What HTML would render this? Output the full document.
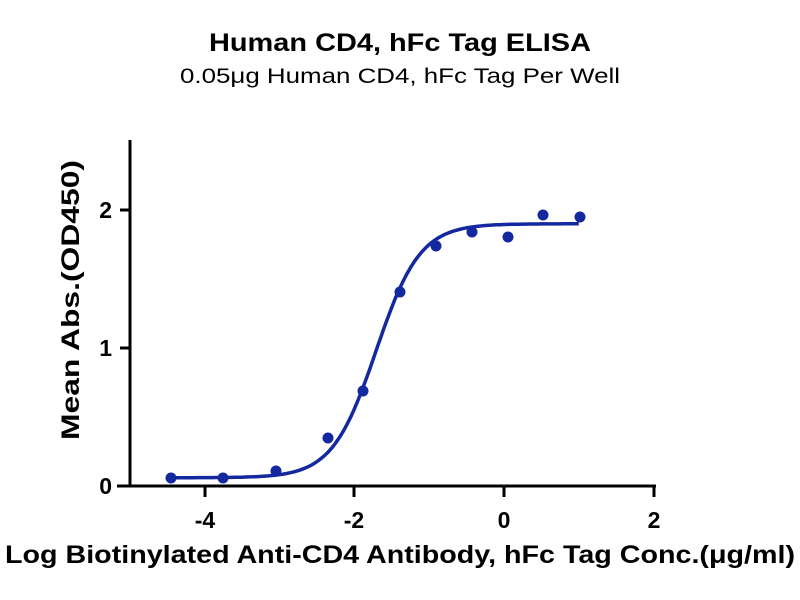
<!DOCTYPE html><html><head><style>body{margin:0;background:#fff}svg{display:block}text{font-family:"Liberation Sans",Arial,sans-serif}</style></head><body>
<svg id="s" width="800" height="600" xmlns="http://www.w3.org/2000/svg">
<text x="400" y="51" text-anchor="middle" font-size="25" font-weight="bold" textLength="382" lengthAdjust="spacingAndGlyphs">Human CD4, hFc Tag ELISA</text>
<text x="400" y="83" text-anchor="middle" font-size="21" textLength="440" lengthAdjust="spacingAndGlyphs">0.05μg Human CD4, hFc Tag Per Well</text>
<g stroke="#000" stroke-width="3" fill="none">
<line x1="130" y1="140" x2="130" y2="487"/>
<line x1="117" y1="486" x2="656" y2="486"/>
<line x1="120" y1="348" x2="130" y2="348"/><line x1="120" y1="210" x2="130" y2="210"/>
<line x1="205" y1="486" x2="205" y2="497"/><line x1="354" y1="486" x2="354" y2="497"/><line x1="504" y1="486" x2="504" y2="497"/><line x1="654" y1="486" x2="654" y2="497"/>
</g>
<g font-size="23" font-weight="bold" text-anchor="end">
<text x="112" y="494">0</text><text x="112" y="356">1</text><text x="112" y="218">2</text></g>
<g font-size="23" font-weight="bold" text-anchor="middle">
<text x="205" y="528">-4</text><text x="354" y="528">-2</text><text x="504" y="528">0</text><text x="654" y="528">2</text></g>
<text x="400" y="563" text-anchor="middle" font-size="25" font-weight="bold" textLength="790" lengthAdjust="spacingAndGlyphs">Log Biotinylated Anti-CD4 Antibody, hFc Tag Conc.(μg/ml)</text>
<text transform="translate(79,300) rotate(-90)" text-anchor="middle" font-size="25" font-weight="bold" textLength="280" lengthAdjust="spacingAndGlyphs">Mean Abs.(OD450)</text>
<path id="c" fill="none" stroke="#1428a0" stroke-width="3.5"/>
<g fill="#1428a0" id="p"></g>
</svg>
<script>
var X=function(v){return 130+(v+5)*74.8},Y=function(v){return 486-v*138};
var d="";for(var x=-4.4;x<=1.0001;x+=0.05){var y=0.06+1.84/(1+Math.pow(10,1.48*(-1.71-x)));d+=(d?"L":"M")+X(x).toFixed(1)+","+Y(y).toFixed(1);}
document.getElementById("c").setAttribute("d",d);
var pts=[[171,478],[223,478],[276,471],[328,438],[363,391],[400,292],[436,246],[472,232],[508,237],[543,215],[580,217]],g="";
pts.forEach(function(p){g+='<circle cx="'+p[0]+'" cy="'+p[1]+'" r="5.5"/>'});
document.getElementById("p").innerHTML=g;
</script></body></html>
